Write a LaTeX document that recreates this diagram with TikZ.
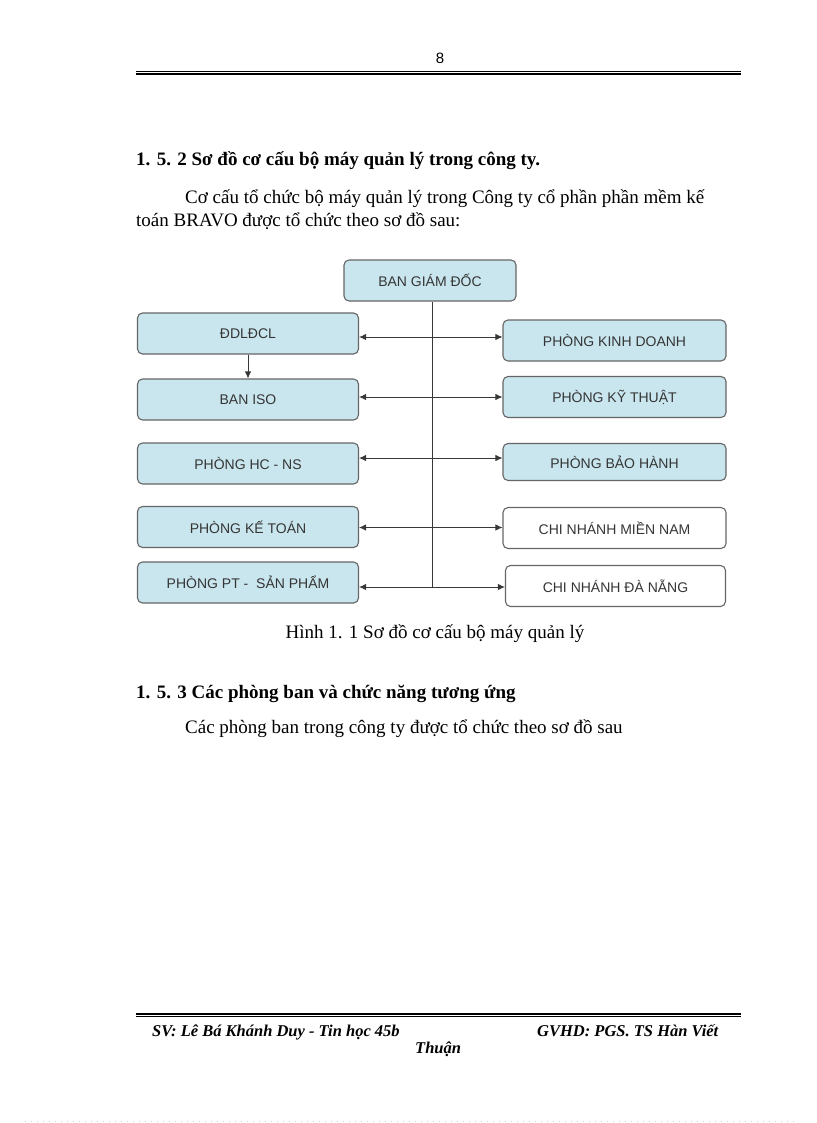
\documentclass[tikz,border=0pt]{standalone}
\usepackage{fontspec}
\setmainfont{Liberation Serif}
\newfontfamily\diagfont{Liberation Sans}
\usetikzlibrary{arrows.meta,positioning,calc}
\definecolor{boxfill}{HTML}{C9E6EE}
\definecolor{boxline}{HTML}{666666}
\definecolor{boxtext}{HTML}{353535}
\definecolor{linecol}{HTML}{383838}
\tikzset{
  orgbox/.style={draw=boxline, line width=1.1pt, rounded corners=5pt, fill=boxfill,
    minimum width=221pt, minimum height=41pt, inner sep=0pt,
    text=boxtext, font=\diagfont\fontsize{14}{16}\selectfont},
  whitebox/.style={orgbox, fill=white},
  conn/.style={draw=linecol, line width=0.9pt},
  tip/.style={-{Latex[length=7pt,width=6.5pt]}},
  bodytext/.style={anchor=base west, inner sep=0pt, font=\fontsize{19}{22}\selectfont},
  headtext/.style={anchor=base west, inner sep=0pt, font=\bfseries\fontsize{19}{22}\selectfont},
  foottext/.style={anchor=base west, inner sep=0pt, font=\bfseries\itshape\fontsize{16.5}{19}\selectfont},
}
\begin{document}
\begin{tikzpicture}[x=1pt,y=-1pt]
\useasboundingbox (0,0) rectangle (816,1123);
\fill[white] (0,0) rectangle (816,1123);

% header
\node[anchor=base, inner sep=0pt, font=\diagfont\fontsize{15}{17}\selectfont] (pagenum) at (440,64) {8};
\draw[line width=0.8pt] (136,71.5) -- (741,71.5);
\draw[line width=2pt] (136,74.5) -- (741,74.5);

% texts
\node[headtext] (h1) at (136,166) {1. 5. 2 Sơ đồ cơ cấu bộ máy quản lý trong công ty.};
\node[bodytext] (p1) at (185,204) {Cơ cấu tổ chức bộ máy quản lý trong Công ty cổ phần phần mềm kế};
\node[bodytext] (p2) at (136,227) {toán BRAVO được tổ chức theo sơ đồ sau:};

% diagram
\node[orgbox, minimum width=172pt] (bgd) at (430,280.5) {BAN GIÁM ĐỐC};
\node[orgbox] (ddl) at (248,333.5) {ĐDLĐCL};
\node[orgbox] (iso) at (248,399.5) {BAN ISO};
\node[orgbox] (hcns) at (248,463.5) {PHÒNG HC - NS};
\node[orgbox] (kt) at (248,527) {PHÒNG KẾ TOÁN};
\node[orgbox] (pt) at (248,582.5) {PHÒNG PT -\ \ SẢN PHẨM};

\node[orgbox, minimum width=223pt] (kd) at (614.5,340.5) {PHÒNG KINH DOANH};
\node[orgbox, minimum width=223pt] (kyt) at (614.5,397) {PHÒNG KỸ THUẬT};
\node[orgbox, minimum width=223pt, minimum height=37pt] (bh) at (614.5,462) {PHÒNG BẢO HÀNH};
\node[whitebox, minimum width=223pt] (mn) at (614.5,528) {CHI NHÁNH MIỀN NAM};
\node[whitebox, minimum width=220pt] (dn) at (615.5,586) {CHI NHÁNH ĐÀ NẴNG};

\coordinate (j1) at (432,337);
\coordinate (j2) at (432,397);
\coordinate (j3) at (432,458);
\coordinate (j4) at (432,527.5);
\coordinate (j5) at (432,587);

\draw[conn] (bgd.south -| j1) -- (j5);
\foreach \j/\l/\r in {j1/ddl/kd, j2/iso/kyt, j3/hcns/bh, j4/kt/mn, j5/pt/dn}{
  \draw[conn, tip] (\j) -- (\l.east |- \j);
  \draw[conn, tip] (\j) -- (\r.west |- \j);
}
\draw[conn, tip] (ddl.south) -- (iso.north);

% caption & following text
\node[anchor=base, inner sep=0pt, font=\fontsize{19}{22}\selectfont] (cap) at (435,638) {Hình 1. 1 Sơ đồ cơ cấu bộ máy quản lý};
\node[headtext] (h2) at (136,698) {1. 5. 3 Các phòng ban và chức năng tương ứng};
\node[bodytext] (p3) at (185,733) {Các phòng ban trong công ty được tổ chức theo sơ đồ sau};

% footer
\draw[line width=2pt] (136,1013.5) -- (741,1013.5);
\draw[line width=0.8pt] (136,1016.5) -- (741,1016.5);
\node[foottext] (f1) at (152,1036) {SV: Lê Bá Khánh Duy - Tin học 45b};
\node[foottext] (f2) at (537,1036) {GVHD: PGS. TS Hàn Viết};
\node[foottext] (f3) at (415,1053) {Thuận};

% faint dotted bottom edge
\draw[gray!40, line width=0.5pt, dash pattern=on 1pt off 5pt] (25,1121) -- (795,1121);
\end{tikzpicture}
\end{document}
